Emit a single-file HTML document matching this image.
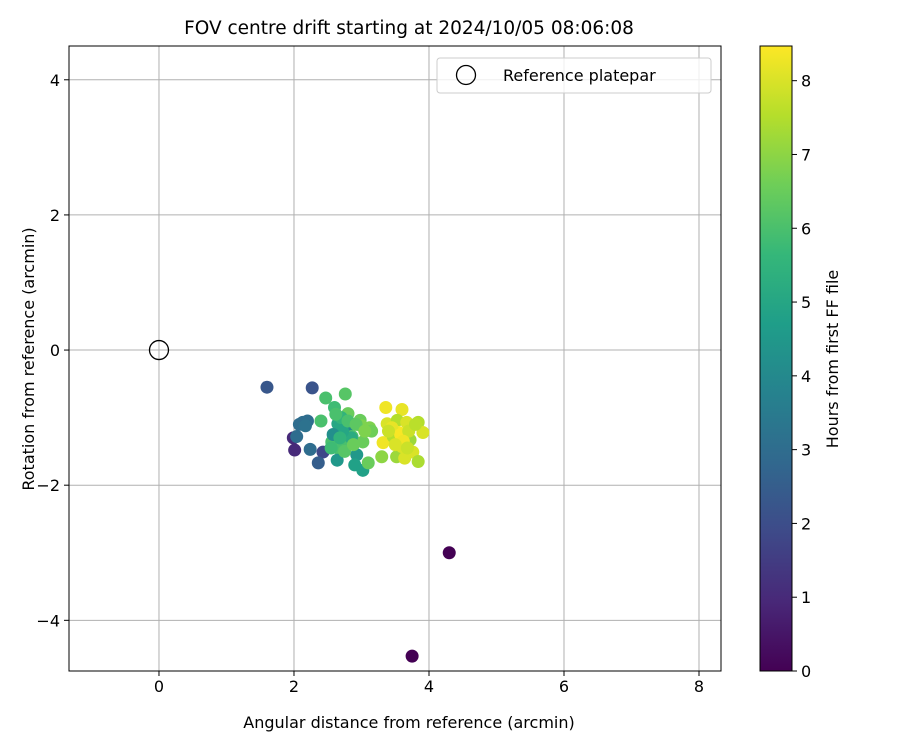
<!DOCTYPE html>
<html><head><meta charset="utf-8"><style>
body{margin:0;background:#fff;font-family:"Liberation Sans","DejaVu Sans",sans-serif}
svg text{font-family:"DejaVu Sans","Liberation Sans",sans-serif;fill:#000}
</style></head><body>
<svg id="c" width="900" height="750" xmlns="http://www.w3.org/2000/svg"></svg>
<script>
const xs=[4.3,3.75,1.6,2.27,2.47,2.76,3.36,3.6,2.13,2.2,2.4,2.6,2.8,2.98,3.12,2.65,3.38,3.53,3.67,3.84,3.91,3.55,1.99,2.04,2.01,2.24,2.43,2.36,2.56,2.65,2.75,2.64,2.78,2.86,2.93,2.9,3.02,3.1,3.02,3.32,3.3,3.52,3.64,3.76,3.84,3.72,3.6,3.47,2.7,3.0,3.15,2.85,2.08,2.17,2.62,2.72,2.58,2.68,2.8,2.92,3.05,3.45,3.58,3.7,3.8,3.62,3.5,3.4,2.55,2.75,2.88,3.68];
const ys=[-3.0,-4.53,-0.55,-0.56,-0.71,-0.65,-0.85,-0.88,-1.07,-1.05,-1.05,-0.85,-0.94,-1.04,-1.15,-1.09,-1.09,-1.04,-1.07,-1.07,-1.22,-1.22,-1.3,-1.28,-1.48,-1.47,-1.51,-1.67,-1.36,-1.45,-1.43,-1.63,-1.18,-1.28,-1.55,-1.7,-1.78,-1.67,-1.36,-1.37,-1.58,-1.58,-1.6,-1.51,-1.65,-1.33,-1.43,-1.28,-1.0,-1.12,-1.2,-1.3,-1.1,-1.12,-0.95,-1.2,-1.25,-1.3,-1.05,-1.1,-1.2,-1.15,-1.25,-1.2,-1.1,-1.35,-1.4,-1.2,-1.45,-1.5,-1.4,-1.45];
const hours=[0,0,2.3,2.2,6,6.2,8.3,8.2,3,3,6,5.8,6.5,6.5,6.8,5,8,7.5,8,7.5,8,8.4,1,3,1,3,1.8,2.5,6,6,6,4.5,4,6,4.5,4.8,4.8,6.5,6.5,8.3,7,7.2,8,8,7.4,7.2,8,7.5,5.5,6.8,6.6,5.2,3,3.2,6,5,4.2,5.5,6,6.3,6.8,8.2,8.4,7.8,7.6,8.3,8,7.8,5.8,6.2,6.5,7.8];
const xTicks=[0,2,4,6,8], yTicks=[-4,-2,0,2,4], cTicks=[0,1,2,3,4,5,6,7,8];
const L=69,R=721,T=46,B=671, xmin=-1.333,xmax=8.326,ymin=-4.75,ymax=4.5, cmax=8.47;
const sx=v=>L+(v-xmin)/(xmax-xmin)*(R-L), sy=v=>B-(v-ymin)/(ymax-ymin)*(B-T);
const vir=[[68,1,84],[72,40,120],[62,74,137],[49,104,142],[38,130,142],[31,158,137],[53,183,121],[110,206,88],[181,222,43],[253,231,37]];
function col(t){t=Math.max(0,Math.min(1,t))*9;const i=Math.min(8,Math.floor(t)),f=t-i,a=vir[i],b=vir[i+1];return `rgb(${a.map((v,k)=>Math.round(v+(b[k]-v)*f)).join(',')})`;}
const svg=document.getElementById('c');const NS='http://www.w3.org/2000/svg';
function el(tag,at,txt){const e=document.createElementNS(NS,tag);for(const k in at)e.setAttribute(k,at[k]);if(txt!=null)e.textContent=txt;svg.appendChild(e);return e;}
let e;
xTicks.forEach(v=>{const x=sx(v);
e=el('line',{x1:x,x2:x,y1:T,y2:B,stroke:'#b0b0b0','stroke-width':1});
e=el('line',{x1:x,x2:x,y1:B,y2:B+5,stroke:'#000'});
e=el('text',{x:x,y:B+21,'text-anchor':'middle','font-size':16},String(v));});
yTicks.forEach(v=>{const y=sy(v);
e=el('line',{x1:L,x2:R,y1:y,y2:y,stroke:'#b0b0b0','stroke-width':1});
e=el('line',{x1:L-5,x2:L,y1:y,y2:y,stroke:'#000'});
e=el('text',{x:L-9,y:y+6,'text-anchor':'end','font-size':16},v<0?'\u2212'+(-v):String(v));});
xs.forEach((x,i)=>{e=el('circle',{cx:sx(x),cy:sy(ys[i]),r:6.5,fill:col(hours[i]/cmax)});});
e=el('circle',{cx:sx(0),cy:sy(0),r:9.5,fill:'none',stroke:'#000','stroke-width':1.3});
e=el('rect',{x:L,y:T,width:R-L,height:B-T,fill:'none',stroke:'#000','stroke-width':1});
e=el('rect',{x:437,y:58,width:274,height:35,rx:3,fill:'#fff','fill-opacity':0.8,stroke:'#ccc'});
e=el('circle',{cx:466,cy:75,r:9.5,fill:'none',stroke:'#000','stroke-width':1.3});
e=el('text',{x:503,y:81,'font-size':16},'Reference platepar');
e=el('text',{x:409,y:34,'text-anchor':'middle','font-size':18.5},'FOV centre drift starting at 2024/10/05 08:06:08');
e=el('text',{x:409,y:728,'text-anchor':'middle','font-size':16},'Angular distance from reference (arcmin)');
e=el('text',{x:34,y:359,'text-anchor':'middle','font-size':16,transform:'rotate(-90 34 359)'},'Rotation from reference (arcmin)');
const CL=760,CW=32;
const defs=el('defs',{});const g=document.createElementNS(NS,'linearGradient');g.setAttribute('id','vg');g.setAttribute('x1','0');g.setAttribute('y1','1');g.setAttribute('x2','0');g.setAttribute('y2','0');defs.appendChild(g);
vir.forEach((c,i)=>{const s=document.createElementNS(NS,'stop');s.setAttribute('offset',i/9);s.setAttribute('stop-color',`rgb(${c.join(',')})`);g.appendChild(s);});
e=el('rect',{x:CL,y:T,width:CW,height:B-T,fill:'url(#vg)',stroke:'#000'});
cTicks.forEach(v=>{const y=B-v/cmax*(B-T);
e=el('line',{x1:CL+CW,x2:CL+CW+5,y1:y,y2:y,stroke:'#000'});
e=el('text',{x:CL+CW+9,y:y+6,'font-size':16},String(v));});
e=el('text',{x:838,y:359,'text-anchor':'middle','font-size':16,transform:'rotate(-90 838 359)'},'Hours from first FF file');
</script>
</body></html>
